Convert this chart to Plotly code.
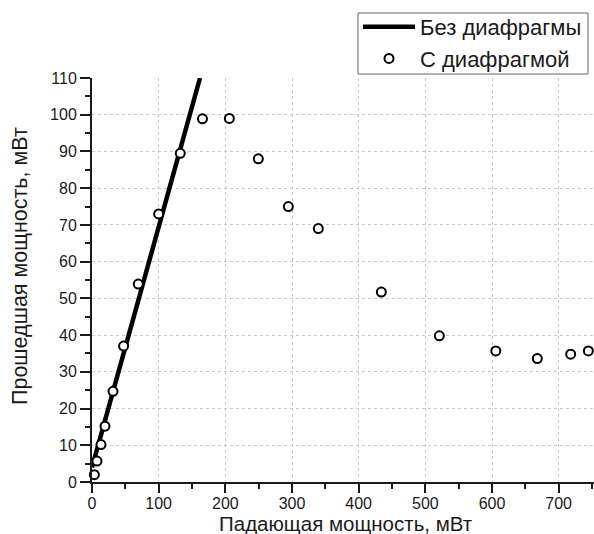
import plotly.graph_objects as go

# Line: without diaphragm
line_x = [0, 162]
line_y = [4, 110]

# Points: with diaphragm
pts_x = [3.5, 7.5, 13.5, 19.5, 31.5, 47.4, 69.4, 100, 132.4, 165.7, 206, 249.5, 294.5, 339.5, 434, 521, 605.7, 668, 718, 744.5]
pts_y = [2.0, 5.7, 10.2, 15.2, 24.7, 37.0, 53.9, 73.0, 89.5, 98.9, 99, 88, 75, 69, 51.7, 39.8, 35.7, 33.6, 34.8, 35.7]

x_ticks = [0, 100, 200, 300, 400, 500, 600, 700]
y_ticks = [0, 10, 20, 30, 40, 50, 60, 70, 80, 90, 100, 110]

x_title = "Падающая мощность, мВт"
y_title = "Прошедшая мощность, мВт"

FONT = "Liberation Sans, Arial, sans-serif"
INK = "#1a1a1a"

fig = go.Figure()
fig.add_trace(go.Scatter(
    x=line_x, y=line_y, mode="lines", name="Без диафрагмы",
    line=dict(color="black", width=4.5),
))
fig.add_trace(go.Scatter(
    x=pts_x, y=pts_y, mode="markers", name="С диафрагмой",
    marker=dict(symbol="circle", size=9, color="white",
                line=dict(color="black", width=2)),
    cliponaxis=False,
))

W, H = 594, 534
ml, mr, mt, mb = 92, 0, 78, 52
PW, PH = W - ml - mr, H - mt - mb


def px_x(p):
    return (p - ml) / PW


def px_y(p):
    return (H - mb - p) / PH


# legend frame
fig.add_shape(type="rect", xref="paper", yref="paper",
              x0=px_x(358), x1=px_x(588), y0=px_y(74), y1=px_y(13),
              line=dict(color="#666", width=1), fillcolor="white", layer="below")

# axis titles
fig.add_annotation(text=x_title, xref="paper", yref="paper",
                   x=px_x(345.5), y=px_y(523.5), xanchor="center", yanchor="middle",
                   showarrow=False, borderpad=0,
                   font=dict(family=FONT, size=20.5, color=INK))
fig.add_annotation(text=y_title, xref="paper", yref="paper", textangle=-90,
                   x=px_x(19.5), y=px_y(266.5), xanchor="center", yanchor="middle",
                   showarrow=False, font=dict(family=FONT, size=21.5, color=INK))

fig.update_layout(
    width=W, height=H,
    margin=dict(l=ml, r=mr, t=mt, b=mb, pad=0),
    paper_bgcolor="white", plot_bgcolor="white",
    font=dict(family=FONT, color=INK, size=16),
    showlegend=True,
    legend=dict(
        x=px_x(358), y=px_y(6),
        xanchor="left", yanchor="top",
        bgcolor="rgba(0,0,0,0)", borderwidth=0,
        font=dict(family=FONT, size=22, color=INK),
        itemwidth=52, tracegroupgap=0,
    ),
    xaxis=dict(
        range=[0, 753], tickvals=x_ticks, ticktext=[str(v) for v in x_ticks],
        showline=True, linecolor=INK, linewidth=2,
        ticks="outside", ticklen=9, tickwidth=2, tickcolor=INK,
        ticklabelstandoff=-3,
        minor=dict(dtick=50, ticks="outside", ticklen=5, tickwidth=2, tickcolor=INK, showgrid=False),
        showgrid=True, gridcolor="#c8c8c8", griddash="dot", gridwidth=1,
        zeroline=False, tickfont=dict(size=16, color=INK),
    ),
    yaxis=dict(
        range=[0, 110], tickvals=y_ticks, ticktext=[str(v) for v in y_ticks],
        showline=True, linecolor=INK, linewidth=2,
        ticks="outside", ticklen=10, tickwidth=2, tickcolor=INK,
        minor=dict(dtick=5, ticks="outside", ticklen=5, tickwidth=2, tickcolor=INK, showgrid=False),
        showgrid=True, gridcolor="#c8c8c8", griddash="dot", gridwidth=1,
        zeroline=False, tickfont=dict(size=16, color=INK),
    ),
)

fig.write_html("out.html")
